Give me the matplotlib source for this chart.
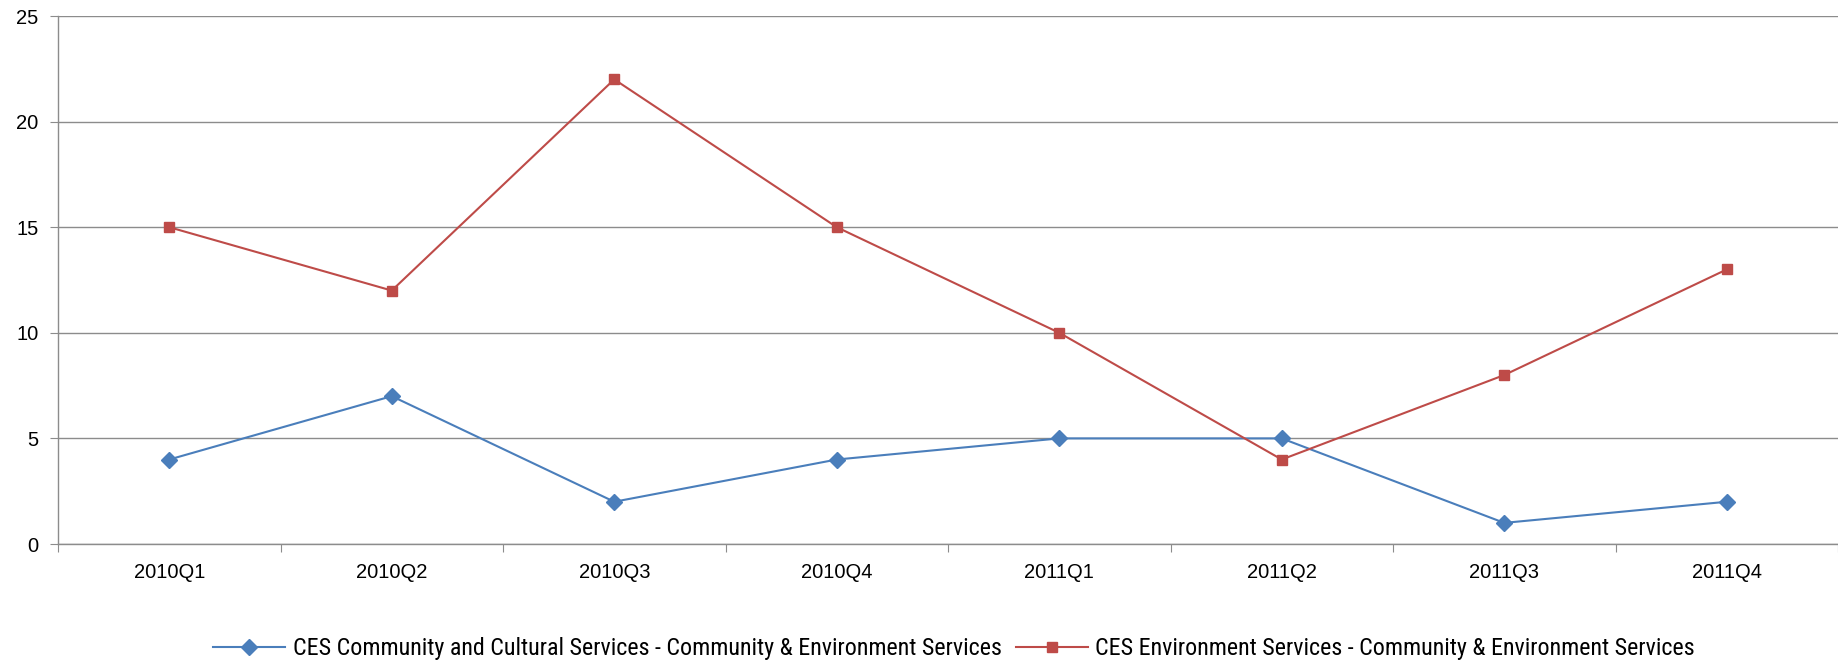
import matplotlib
matplotlib.use("Agg")
import matplotlib.pyplot as plt
from matplotlib import font_manager
import numpy as np

categories = ["2010Q1", "2010Q2", "2010Q3", "2010Q4", "2011Q1", "2011Q2", "2011Q3", "2011Q4"]
community = [4, 7, 2, 4, 5, 5, 1, 2]
environment = [15, 12, 22, 15, 10, 4, 8, 13]
label_comm = "CES Community and Cultural Services - Community & Environment Services"
label_env = "CES Environment Services - Community & Environment Services"

names = {f.name for f in font_manager.fontManager.ttflist}
base_font = "Liberation Sans" if "Liberation Sans" in names else "DejaVu Sans"
leg_font = base_font
for cand in ["Liberation Sans Narrow", "Roboto Condensed", "Open Sans Condensed"]:
    if cand in names:
        leg_font = cand
        break
plt.rcParams['font.family'] = [base_font, 'DejaVu Sans']

W, H = 1838, 660
fig = plt.figure(figsize=(W / 100, H / 100), dpi=100)
left, right, top, bottom = 58, 1838, 16, 544
ax = fig.add_axes([left / W, 1 - bottom / H, (right - left) / W, (bottom - top) / H])

x = np.arange(len(categories))
blue = "#4A7EBB"
red = "#BE4B48"
ax.plot(x, community, color=blue, lw=1.5, marker="D", ms=8, mec=blue, mfc=blue, label=label_comm, zorder=3)
ax.plot(x, environment, color=red, lw=1.5, marker="s", ms=7, mec=red, mfc=red, label=label_env, zorder=3)

ax.set_xlim(-0.5, len(categories) - 0.5)
ax.set_ylim(0, 25)
ax.set_yticks(range(0, 26, 5))
ax.yaxis.grid(True, color="#8C8C8C", lw=1.0)
ax.set_axisbelow(True)
for s in ["top", "right"]:
    ax.spines[s].set_visible(False)
for s in ["left", "bottom"]:
    ax.spines[s].set_color("#8C8C8C")
    ax.spines[s].set_linewidth(1.0)

ax.set_xticks(np.arange(len(categories) + 1) - 0.5)
ax.set_xticklabels([])
ax.set_xticks(x, minor=True)
ax.set_xticklabels(categories, minor=True)
ax.tick_params(axis="x", which="major", length=6, color="#8C8C8C", direction="out")
ax.tick_params(axis="x", which="minor", length=0, pad=14, labelsize=14.5, labelcolor="black")
ax.tick_params(axis="y", length=6, color="#8C8C8C", direction="out", pad=8, labelsize=14.5)

leg_left, leg_right = 213.0, 1695.0
target_w = leg_right - leg_left
fs = 14.0
leg = None
for _ in range(3):
    if leg is not None:
        leg.remove()
    leg = fig.legend(loc="center", bbox_to_anchor=((leg_left + leg_right) / 2 / W, 1 - 649 / H), ncol=2,
                     frameon=False, prop={"family": [leg_font, 'DejaVu Sans'], "size": fs},
                     handlelength=3.0, columnspacing=0.6, handletextpad=0.3, borderpad=0, borderaxespad=0)
    fig.canvas.draw()
    w = leg.get_window_extent().width
    fs = fs * target_w / w

fig.savefig("out.png", dpi=100)
